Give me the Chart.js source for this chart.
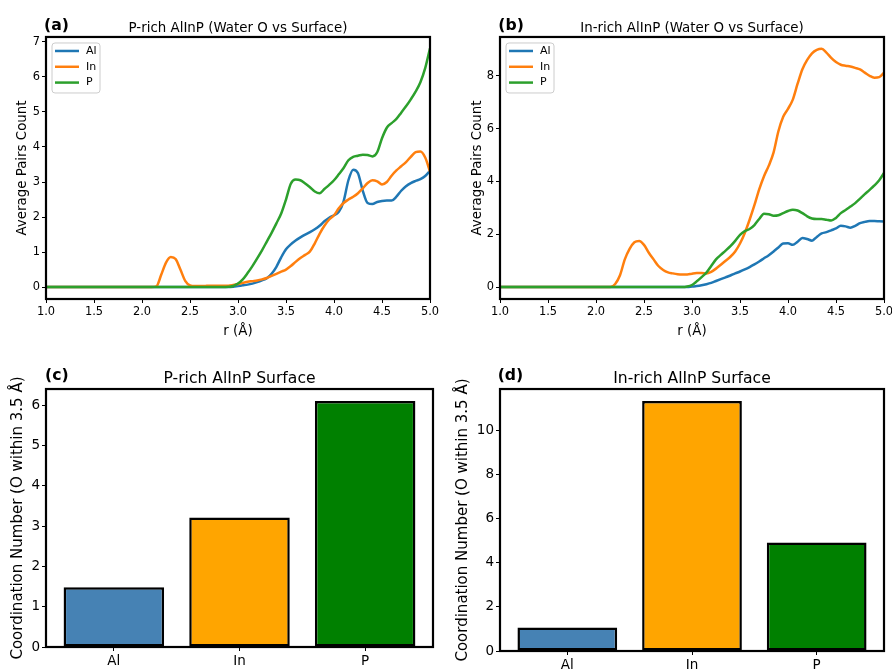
<!DOCTYPE html>
<html>
<head>
<meta charset="utf-8">
<script src="https://cdn.jsdelivr.net/npm/chart.js@4.4.1/dist/chart.umd.min.js"></script>
<style>
  body { margin: 0; background: #fff; }
  #wrap { position: relative; width: 892px; height: 670px; overflow: hidden; }
  canvas { position: absolute; }
</style>
</head>
<body>
<div id="wrap">
  <canvas id="chartA" width="446" height="340" style="left:0;top:0"></canvas>
  <canvas id="chartB" width="446" height="340" style="left:446px;top:0"></canvas>
  <canvas id="chartC" width="446" height="330" style="left:0;top:340px"></canvas>
  <canvas id="chartD" width="446" height="330" style="left:446px;top:340px"></canvas>
</div>
<script>
//////////////// DATA //////////////////

// r grid (Å) shared by every curve
const rValues = [1.0, 1.5, 2.0, 2.05, 2.1, 2.15, 2.2, 2.25, 2.3, 2.35, 2.4, 2.45, 2.5, 2.55, 2.6, 2.65,
    2.7, 2.75, 2.8, 2.85, 2.9, 2.95, 3.0, 3.05, 3.1, 3.15, 3.2, 3.25, 3.3, 3.35, 3.4, 3.45, 3.5, 3.55,
    3.6, 3.65, 3.7, 3.75, 3.8, 3.85, 3.9, 3.95, 4.0, 4.05, 4.1, 4.15, 4.2, 4.25, 4.3, 4.35, 4.4, 4.45,
    4.5, 4.55, 4.6, 4.65, 4.7, 4.75, 4.8, 4.85, 4.9, 4.95, 5.0];

// (a) P-rich surface
const alPrich = [0, 0, 0, 0, 0, 0, 0, 0, 0, 0, 0, 0, 0, 0, 0, 0, 0, 0, 0, 0, 0,
    0.01, 0.03, 0.05, 0.07, 0.10, 0.14, 0.19, 0.25, 0.38, 0.58, 0.85, 1.08, 1.22, 1.33, 1.42, 1.50,
    1.57, 1.65, 1.75, 1.88, 1.98, 2.05, 2.15, 2.45, 3.05, 3.35, 3.25, 2.75, 2.40, 2.37, 2.43, 2.46,
    2.47, 2.47, 2.58, 2.75, 2.88, 2.97, 3.03, 3.08, 3.17, 3.32];
const inPrich = [0, 0, 0, 0, 0, 0.02, 0.35, 0.70, 0.86, 0.80, 0.50, 0.18, 0.05, 0.03, 0.03, 0.03,
    0.04, 0.04, 0.04, 0.04, 0.04, 0.06, 0.09, 0.12, 0.15, 0.17, 0.19, 0.22, 0.26, 0.32, 0.38, 0.44,
    0.50, 0.60, 0.72, 0.83, 0.92, 1.02, 1.25, 1.52, 1.75, 1.93, 2.05, 2.25, 2.40, 2.50, 2.58, 2.68,
    2.82, 2.97, 3.05, 3.02, 2.93, 3.00, 3.18, 3.33, 3.45, 3.57, 3.72, 3.85, 3.87, 3.70, 3.30];
const pPrich = [0, 0, 0, 0, 0, 0, 0, 0, 0, 0, 0, 0, 0, 0, 0, 0, 0, 0, 0, 0,
    0.01, 0.03, 0.10, 0.22, 0.40, 0.60, 0.82, 1.05, 1.30, 1.55, 1.82, 2.10, 2.50, 2.95, 3.07, 3.05,
    2.96, 2.85, 2.73, 2.68, 2.80, 2.92, 3.05, 3.22, 3.40, 3.62, 3.72, 3.75, 3.78, 3.77, 3.73, 3.85,
    4.25, 4.55, 4.68, 4.80, 4.98, 5.16, 5.36, 5.58, 5.85, 6.25, 6.82];

// (b) In-rich surface
const alInrich = [0, 0, 0, 0, 0, 0, 0, 0, 0, 0, 0, 0, 0, 0, 0, 0, 0, 0, 0, 0, 0, 0,
    0.02, 0.04, 0.07, 0.11, 0.16, 0.23, 0.30, 0.37, 0.44, 0.52, 0.59, 0.67, 0.76, 0.86, 0.97, 1.09,
    1.21, 1.35, 1.50, 1.65, 1.66, 1.60, 1.72, 1.86, 1.82, 1.76, 1.90, 2.03, 2.08, 2.15, 2.22, 2.32,
    2.30, 2.25, 2.32, 2.42, 2.47, 2.50, 2.50, 2.49, 2.48];
const inInrich = [0, 0, 0, 0, 0, 0, 0.12, 0.45, 1.05, 1.45, 1.70, 1.75, 1.60, 1.30, 1.05, 0.80,
    0.65, 0.56, 0.52, 0.49, 0.48, 0.48, 0.51, 0.53, 0.53, 0.52, 0.58, 0.70, 0.85, 1.00, 1.15, 1.35,
    1.65, 2.05, 2.55, 3.10, 3.70, 4.20, 4.60, 5.10, 5.90, 6.45, 6.75, 7.10, 7.70, 8.25, 8.60, 8.85,
    8.98, 9.02, 8.88, 8.68, 8.52, 8.42, 8.38, 8.35, 8.30, 8.24, 8.12, 8.00, 7.93, 7.95, 8.12];
const pInrich = [0, 0, 0, 0, 0, 0, 0, 0, 0, 0, 0, 0, 0, 0, 0, 0, 0, 0, 0, 0, 0,
    0.02, 0.08, 0.22, 0.38, 0.55, 0.80, 1.05, 1.22, 1.38, 1.55, 1.75, 1.98, 2.12, 2.20, 2.35, 2.58,
    2.78, 2.76, 2.70, 2.72, 2.80, 2.88, 2.93, 2.90, 2.80, 2.68, 2.60, 2.58, 2.58, 2.55, 2.52, 2.62,
    2.80, 2.92, 3.05, 3.18, 3.35, 3.52, 3.68, 3.85, 4.05, 4.32];

// (c), (d) coordination numbers
const elements = ["Al", "In", "P"];
const coordPrich = [1.48, 3.21, 6.1];
const coordInrich = [1.07, 11.33, 4.92];

const xTicksR = [1.0, 1.5, 2.0, 2.5, 3.0, 3.5, 4.0, 4.5, 5.0];
const yTicksA = [0, 1, 2, 3, 4, 5, 6, 7];
const yTicksB = [0, 2, 4, 6, 8];
const yTicksC = [0, 1, 2, 3, 4, 5, 6];
const yTicksD = [0, 2, 4, 6, 8, 10];

//////////////// STYLE //////////////////

Chart.defaults.font.family = "'DejaVu Sans', sans-serif";
Chart.defaults.color = "#000";

const lineColors = ["#1f77b4", "#ff7f0e", "#2ca02c"];
const barColors = ["#4682b4", "#ffa500", "#008000"];

function pts(ys) {
    return rValues.map((r, i) => ({ x: r, y: ys[i] }));
}

function fixedTicks(list) {
    return function (scale) {
        scale.ticks = list.map(v => ({ value: v }));
    };
}

// frame on all four sides, panel letter and a small legend
const framePlugin = {
    id: "frame",
    afterDraw(chart, args, opts) {
        const ctx = chart.ctx;
        const a = chart.chartArea;
        ctx.save();
        ctx.strokeStyle = "#000";
        ctx.lineWidth = 2.2;
        ctx.strokeRect(a.left, a.top, a.right - a.left, a.bottom - a.top);

        ctx.fillStyle = "#000";
        ctx.font = "bold 15.7px 'DejaVu Sans'";
        ctx.textBaseline = "alphabetic";
        ctx.textAlign = "left";
        ctx.fillText(opts.tag, opts.tagX, opts.tagY);

        if (opts.legend) {
            const bx = a.left + 6, by = a.top + 6;
            ctx.beginPath();
            ctx.roundRect(bx, by, 48, 50, 3);
            ctx.fillStyle = "rgba(255,255,255,0.8)";
            ctx.fill();
            ctx.strokeStyle = "#cccccc";
            ctx.lineWidth = 1;
            ctx.stroke();
            ctx.font = "11px 'DejaVu Sans'";
            ctx.textBaseline = "middle";
            chart.data.datasets.forEach((ds, i) => {
                const y = by + 8 + i * 15.8;
                ctx.strokeStyle = ds.borderColor;
                ctx.lineWidth = 2.5;
                ctx.beginPath();
                ctx.moveTo(bx + 3, y);
                ctx.lineTo(bx + 27, y);
                ctx.stroke();
                ctx.fillStyle = "#000";
                ctx.fillText(ds.label, bx + 34, y);
            });
        }
        ctx.restore();
    }
};

//////////////// LINE PANELS //////////////////

function lineChart(id, title, tag, tagX, series, yMin, yMax, yTicks, yWidth, yTitlePad, rightPad) {
    const names = ["Al", "In", "P"];
    return new Chart(document.getElementById(id), {
        type: "line",
        data: {
            datasets: series.map((s, i) => ({
                label: names[i],
                data: pts(s),
                borderColor: lineColors[i],
                borderWidth: 2.5,
                pointRadius: 0,
                cubicInterpolationMode: "monotone",
                order: 3 - i
            }))
        },
        options: {
            responsive: false,
            animation: false,
            layout: { padding: { left: 0, top: 0, right: rightPad, bottom: 0 } },
            plugins: {
                legend: { display: false },
                tooltip: { enabled: false },
                title: {
                    display: true, text: title, fullSize: false,
                    font: { size: 13.4, weight: "normal" },
                    padding: { top: 20, bottom: 0.9 }
                },
                frame: { tag: tag, tagX: tagX, tagY: 29.6, legend: true }
            },
            scales: {
                x: {
                    type: "linear", min: 1, max: 5,
                    afterBuildTicks: fixedTicks(xTicksR),
                    afterFit(scale) { scale.height = 41; scale.paddingLeft = 0; scale.paddingRight = 0; },
                    ticks: { font: { size: 11.4 }, padding: 2, maxRotation: 0, callback: v => v.toFixed(1) },
                    grid: { drawOnChartArea: false, tickLength: 4, tickColor: "#000" },
                    border: { display: false },
                    title: { display: true, text: "r (Å)", font: { size: 13.4 }, padding: { top: 6.7, bottom: 0 } }
                },
                y: {
                    type: "linear", min: yMin, max: yMax,
                    afterBuildTicks: fixedTicks(yTicks),
                    afterFit(scale) { scale.width = yWidth; scale.paddingTop = 0; scale.paddingBottom = 0; },
                    ticks: { font: { size: 11.4 }, padding: 2 },
                    grid: { drawOnChartArea: false, tickLength: 4, tickColor: "#000" },
                    border: { display: false },
                    title: { display: true, text: "Average Pairs Count", font: { size: 13.4 }, padding: { top: yTitlePad, bottom: 0 } }
                }
            }
        },
        plugins: [framePlugin]
    });
}

lineChart("chartA", "P-rich AlInP (Water O vs Surface)", "(a)", 44,
    [alPrich, inPrich, pPrich], -0.34, 7.14, yTicksA, 46, 14.4, 16);
lineChart("chartB", "In-rich AlInP (Water O vs Surface)", "(b)", 52.3,
    [alInrich, inInrich, pInrich], -0.45, 9.47, yTicksB, 54, 23.1, 8);

//////////////// BAR PANELS //////////////////

function barChart(id, title, tag, tagX, values, yMax, yTicks, yWidth, yTitlePad, xHeight, rightPad) {
    return new Chart(document.getElementById(id), {
        type: "bar",
        data: {
            datasets: [{
                data: values.map((v, i) => ({ x: i, y: v })),
                backgroundColor: barColors,
                borderColor: "#000",
                borderWidth: 2.5,
                borderSkipped: false,
                categoryPercentage: 1,
                barPercentage: 0.8
            }]
        },
        options: {
            responsive: false,
            animation: false,
            layout: { padding: { left: 0, top: 0, right: rightPad, bottom: 0 } },
            plugins: {
                legend: { display: false },
                tooltip: { enabled: false },
                title: {
                    display: true, text: title, fullSize: false,
                    font: { size: 15.6, weight: "normal" },
                    padding: { top: 29.4, bottom: 0.9 }
                },
                frame: { tag: tag, tagX: tagX, tagY: 39.7, legend: false }
            },
            scales: {
                x: {
                    type: "linear", min: -0.54, max: 2.54, offset: false,
                    afterBuildTicks: fixedTicks([0, 1, 2]),
                    afterFit(scale) { scale.height = xHeight; scale.paddingLeft = 0; scale.paddingRight = 0; },
                    ticks: { font: { size: 13.5 }, padding: 2, maxRotation: 0, callback: v => elements[v] },
                    grid: { drawOnChartArea: false, offset: false, tickLength: 4, tickColor: "#000" },
                    border: { display: false }
                },
                y: {
                    type: "linear", min: 0, max: yMax,
                    afterBuildTicks: fixedTicks(yTicks),
                    afterFit(scale) { scale.width = yWidth; scale.paddingTop = 0; scale.paddingBottom = 0; },
                    ticks: { font: { size: 13.5 }, padding: 2 },
                    grid: { drawOnChartArea: false, tickLength: 4, tickColor: "#000" },
                    border: { display: false },
                    title: { display: true, text: "Coordination Number (O within 3.5 Å)", font: { size: 15 }, padding: { top: yTitlePad, bottom: 0 } }
                }
            }
        },
        plugins: [framePlugin]
    });
}

barChart("chartC", "P-rich AlInP Surface", "(c)", 45, coordPrich, 6.4, yTicksC, 46, 9.4, 23, 13);
barChart("chartD", "In-rich AlInP Surface", "(d)", 51.7, coordInrich, 11.87, yTicksD, 54, 8.4, 19, 8);
</script>
</body>
</html>
